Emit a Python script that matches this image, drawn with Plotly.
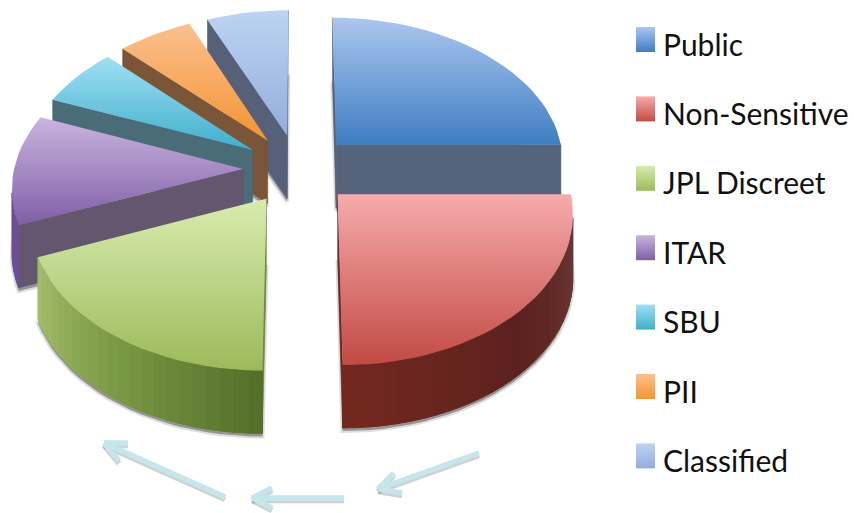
import math
import plotly.graph_objects as go

# Share of records per handling category (percent)
categories = ["Public", "Non-Sensitive", "JPL Discreet", "ITAR", "SBU", "PII", "Classified"]
shares = [25, 25, 19, 12, 6.5, 6, 6.5]

# Top-face gradient (upper colour, lower colour) per category
top_light = ["#ABC7EF", "#F6ABAB", "#D8ECAE", "#C9B5DF", "#A0DFF3", "#FBC08F", "#BDD3F2"]
top_dark = ["#3F7DC2", "#C24A44", "#9CBA5B", "#7F5EA6", "#3FAFCB", "#F39432", "#93AEDC"]
# Flat colour of the cut faces
face_colors = ["#55647A", "#6A2A26", "#6F8A3C", "#63566E", "#4A6B78", "#7A5538", "#566078"]
# Rim colour at the start and middle and end of each slice
rim_colors = [
    ("#55647A", "#55647A", "#55647A"),
    ("#6C3D3A", "#5C211E", "#75291F"),
    ("#55702A", "#7C9B46", "#A6BF6E"),
    ("#6E4F96", "#6E4F96", "#6E4F96"),
    ("#4A6B78", "#4A6B78", "#4A6B78"),
    ("#7A5538", "#7A5538", "#7A5538"),
    ("#566078", "#566078", "#566078"),
]

# Legend layout
legend_text_x = 661
legend_swatch_x = (636, 655)
legend_first_y = 39.5
legend_step = 69.4

# Direction arrows under the pie: tail, tip, two barbs
arrows = [
    ((479, 453), (378, 489), (394, 473), (402, 493)),
    ((344, 498), (252, 498), (272, 488), (272, 508)),
    ((225, 497), (104, 443), (128, 443), (119, 461)),
]
arrow_color = "#C5E6EA"

# Projection of the tilted pie onto the page
CX, CY = 298, 169
RX, RY, DEPTH = 229, 146, 63
PERSPECTIVE = 0.11
EXPLODE = 0.24


def project(x, y, z=0.0):
    s = 1 / (1 + PERSPECTIVE * y)
    return CX + RX * s * x, CY - RY * s * y + DEPTH * z


def hex_rgb(c):
    return tuple(int(c[i:i + 2], 16) for i in (1, 3, 5))


def mix(a, b, t):
    ra, rb = hex_rgb(a), hex_rgb(b)
    return "rgb(%d,%d,%d)" % tuple(round(u + (v - u) * t) for u, v in zip(ra, rb))


def to_hex_mix(stops, t):
    if t < 0.5:
        return mix(stops[0], stops[1], t * 2)
    return mix(stops[1], stops[2], (t - 0.5) * 2)


def signed_area(pts):
    total = 0
    for i, (x0, y0) in enumerate(pts):
        x1, y1 = pts[(i + 1) % len(pts)]
        total += x0 * y1 - x1 * y0
    return total / 2


def polygon(pts, **kw):
    xs = [p[0] for p in pts] + [pts[0][0]]
    ys = [p[1] for p in pts] + [pts[0][1]]
    kw.setdefault("line", dict(width=0))
    return go.Scatter(x=xs, y=ys, mode="lines", fill="toself", showlegend=False,
                      hoverinfo="skip", **kw)


def gradient_polygon(pts, light, dark):
    ys = [p[1] for p in pts]
    return polygon(pts, fillgradient=dict(type="vertical", start=min(ys), stop=max(ys),
                                          colorscale=[[0, light], [1, dark]]))


fig = go.Figure()

# Slice angles, clockwise from the back of the pie
total = sum(shares)
slices = []
start = 0.0
for i, share in enumerate(shares):
    sweep = 360 * share / total
    slices.append((i, start, start + sweep))
    start += sweep

# Paint from the back of the pie towards the viewer
slices.sort(key=lambda s: math.cos(math.radians((s[1] + s[2]) / 2)), reverse=True)

for i, a0, a1 in slices:
    mid = math.radians((a0 + a1) / 2)
    ox, oy = EXPLODE * math.sin(mid), EXPLODE * math.cos(mid)
    steps = max(4, int((a1 - a0) / 3))
    angles = [a0 + (a1 - a0) * k / steps for k in range(steps + 1)]
    rim = [(ox + math.sin(math.radians(a)), oy + math.cos(math.radians(a))) for a in angles]
    outline = [(ox, oy)] + rim

    top = [project(x, y, 0) for x, y in outline]
    bottom = [project(x, y, 1) for x, y in outline]

    # Soft shadow under the slice
    shade = [(x, y + 3) for x, y in bottom]
    fig.add_trace(polygon(shade, fillcolor="rgba(60,60,60,0.45)",
                          line=dict(width=4, color="rgba(60,60,60,0.18)")))

    # Cut faces that turn towards the viewer
    n = len(outline)
    for j in (0, n - 1):
        k = (j + 1) % n
        quad = [top[j], top[k], bottom[k], bottom[j]]
        if signed_area(quad) < 0:
            fig.add_trace(polygon(quad, fillcolor=face_colors[i],
                                  line=dict(width=0.5, color=face_colors[i])))

    # Curved rim, one strip per step
    for j in range(1, n - 1):
        quad = [top[j], top[j + 1], bottom[j + 1], bottom[j]]
        if signed_area(quad) < 0:
            col = to_hex_mix(rim_colors[i], (j - 1) / (n - 2))
            fig.add_trace(polygon(quad, fillcolor=col, line=dict(width=1, color=col)))

    fig.add_trace(gradient_polygon(top, top_light[i], top_dark[i]))

# Arrows
for tail, tip, barb_a, barb_b in arrows:
    for color, dy in (("rgba(90,90,90,0.28)", 2.5), (arrow_color, 0)):
        for a, b in ((tail, tip), (barb_a, tip), (barb_b, tip)):
            fig.add_trace(go.Scatter(x=[a[0], b[0]], y=[a[1] + dy, b[1] + dy], mode="lines",
                                     line=dict(color=color, width=5.5), showlegend=False,
                                     hoverinfo="skip"))

# Legend swatches and labels
for i, name in enumerate(categories):
    yc = legend_first_y + legend_step * i
    x0, x1 = legend_swatch_x
    fig.add_trace(gradient_polygon([(x0, yc - 12.5), (x1, yc - 12.5), (x1, yc + 12.5), (x0, yc + 12.5)],
                                   top_light[i], top_dark[i]))
    fig.add_annotation(x=legend_text_x, y=yc + 4, text=name, showarrow=False, xanchor="left",
                       yanchor="middle", xref="x", yref="y",
                       font=dict(family="Lato, sans-serif", size=30, color="#111111"))

fig.update_layout(
    width=854, height=513, autosize=False,
    margin=dict(l=0, r=0, t=0, b=0),
    paper_bgcolor="white", plot_bgcolor="white",
    showlegend=False,
    xaxis=dict(range=[0, 854], visible=False, fixedrange=True),
    yaxis=dict(range=[513, 0], visible=False, fixedrange=True),
)
fig.write_html("out.html", config=dict(displayModeBar=False))
